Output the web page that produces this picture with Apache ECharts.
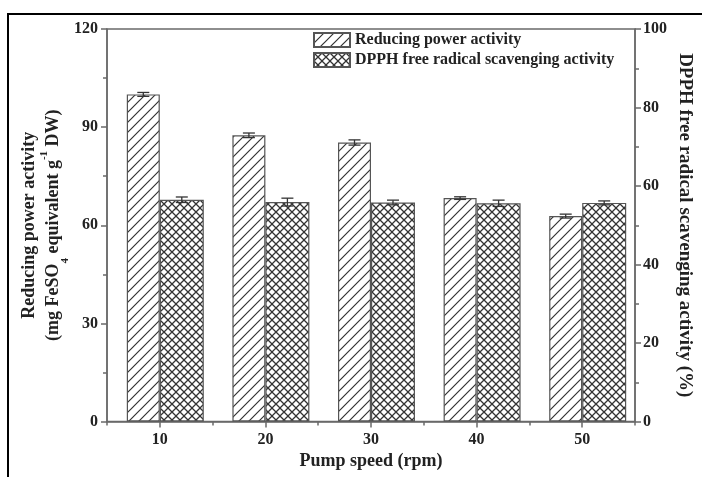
<!DOCTYPE html>
<html>
<head>
<meta charset="utf-8">
<script src="https://cdn.jsdelivr.net/npm/echarts@6/dist/echarts.min.js"></script>
<style>
  html, body { margin: 0; padding: 0; background: #ffffff; }
  #chart { width: 702px; height: 477px; }
</style>
</head>
<body>
<div id="chart"></div>
<script>
// Pump speed categories (rpm)
const pumpSpeeds = ['10', '20', '30', '40', '50'];
// Reducing power activity (mg FeSO4 equivalent g-1 DW) and its error
const reducingPower = [100.0, 87.5, 85.3, 68.3, 62.8];
const reducingErr = [0.6, 0.7, 0.8, 0.4, 0.6];
// DPPH free radical scavenging activity (%) and its error
const dpphActivity = [56.5, 55.9, 55.8, 55.6, 55.7];
const dpphErr = [0.7, 1.0, 0.6, 0.8, 0.5];

const FONT = '"Liberation Serif", "Times New Roman", serif';
const AXIS_COLOR = '#6a6a6a';
const INK = '#333333';

// Bar widths in pixels; the lead slot keeps the hatched / cross-hatched
// boundary exactly on the category tick.
const LEAD_W = 11, HATCH_W = 33, CROSS_W = 44;

function makeHatch() {
  const c = document.createElement('canvas');
  c.width = 10; c.height = 10;
  const g = c.getContext('2d');
  g.fillStyle = '#ffffff';
  g.fillRect(0, 0, 10, 10);
  g.strokeStyle = INK;
  g.lineWidth = 1.2;
  g.beginPath();
  g.moveTo(-2, 12); g.lineTo(12, -2);
  g.moveTo(-2, 2); g.lineTo(2, -2);
  g.moveTo(8, 12); g.lineTo(12, 8);
  g.stroke();
  return c;
}

function makeCross() {
  const c = document.createElement('canvas');
  c.width = 8; c.height = 8;
  const g = c.getContext('2d');
  g.fillStyle = '#ffffff';
  g.fillRect(0, 0, 8, 8);
  g.strokeStyle = INK;
  g.lineWidth = 1.3;
  g.beginPath();
  g.moveTo(-1, 9); g.lineTo(9, -1);
  g.moveTo(-1, -1); g.lineTo(9, 9);
  g.stroke();
  return c;
}

function errorBars(offset, halfCap) {
  return function (params, api) {
    const i = api.value(0), v = api.value(1), e = api.value(2);
    const hi = api.coord([i, v + e]);
    const lo = api.coord([i, v - e]);
    const x = hi[0] + offset;
    const style = { stroke: INK, lineWidth: 1.3 };
    return {
      type: 'group',
      children: [
        { type: 'line', shape: { x1: x, y1: hi[1], x2: x, y2: lo[1] }, style: style },
        { type: 'line', shape: { x1: x - halfCap, y1: hi[1], x2: x + halfCap, y2: hi[1] }, style: style },
        { type: 'line', shape: { x1: x - halfCap, y1: lo[1], x2: x + halfCap, y2: lo[1] }, style: style }
      ]
    };
  };
}

const chart = echarts.init(document.getElementById('chart'), null, { renderer: 'canvas' });

const tickLabel = { fontFamily: FONT, fontWeight: 'bold', fontSize: 16, color: '#222' };
const titleText = { fontFamily: FONT, fontWeight: 'bold', fontSize: 18, color: '#222' };

chart.setOption({
  animation: false,
  backgroundColor: '#ffffff',
  graphic: [{
    type: 'rect',
    shape: { x: 8, y: 14, width: 720, height: 500 },
    style: { fill: 'none', stroke: '#000', lineWidth: 2 },
    silent: true, z: -1
  }],
  grid: {
    left: 107, right: 57, top: 29, bottom: 55.5,
    show: true, borderColor: AXIS_COLOR, borderWidth: 1.5, backgroundColor: 'transparent'
  },
  legend: {
    data: ['Reducing power activity', 'DPPH free radical scavenging activity'],
    orient: 'vertical',
    left: 308, top: 27,
    itemWidth: 36, itemHeight: 14, itemGap: 4,
    icon: 'rect',
    textStyle: { fontFamily: FONT, fontWeight: 'bold', fontSize: 16, color: '#222', padding: [0, 0, 0, 0] }
  },
  xAxis: [{
    type: 'category',
    data: pumpSpeeds,
    boundaryGap: true,
    name: 'Pump speed (rpm)',
    nameLocation: 'middle',
    nameGap: 31,
    nameTextStyle: titleText,
    axisLine: { show: true, lineStyle: { color: AXIS_COLOR, width: 1.5 } },
    axisTick: { show: true, alignWithLabel: true, length: 6, lineStyle: { color: AXIS_COLOR, width: 1.5 } },
    axisLabel: Object.assign({ margin: 10 }, tickLabel),
    splitLine: { show: false }
  }, {
    // boundary ticks halfway between speeds
    type: 'category',
    data: pumpSpeeds,
    position: 'bottom',
    boundaryGap: true,
    axisLine: { show: false },
    axisTick: { show: true, length: 4, lineStyle: { color: AXIS_COLOR, width: 1.5 } },
    axisLabel: { show: false },
    splitLine: { show: false }
  }],
  yAxis: [{
    type: 'value',
    min: 0, max: 120, interval: 30,
    position: 'left',
    name: '{a|Reducing power activity}\n{a|(mg FeSO}{sub|4}{a| equivalent g}{sup|-1}{a| DW)}',
    nameLocation: 'middle',
    nameRotate: 90,
    nameGap: 42,
    nameMoveOverlap: false,
    nameTextStyle: {
      rich: {
        a: Object.assign({ lineHeight: 24 }, titleText),
        sub: { fontFamily: FONT, fontWeight: 'bold', fontSize: 11, color: '#222', verticalAlign: 'bottom', lineHeight: 24, padding: [0, 0, -6, 0] },
        sup: { fontFamily: FONT, fontWeight: 'bold', fontSize: 11, color: '#222', verticalAlign: 'top', lineHeight: 24, padding: [-2, 0, 0, 0] }
      }
    },
    axisLine: { show: true, lineStyle: { color: AXIS_COLOR, width: 1.5 } },
    axisTick: { show: true, length: 6, lineStyle: { color: AXIS_COLOR, width: 1.5 } },
    minorTick: { show: true, splitNumber: 2, length: 4, lineStyle: { color: AXIS_COLOR, width: 1.5 } },
    axisLabel: Object.assign({ margin: 9 }, tickLabel),
    splitLine: { show: false }
  }, {
    type: 'value',
    min: 0, max: 100, interval: 20,
    position: 'right',
    name: 'DPPH free radical scavenging activity (%)',
    nameLocation: 'middle',
    nameRotate: -90,
    nameGap: 40,
    nameMoveOverlap: false,
    nameTextStyle: Object.assign({}, titleText, { fontSize: 19 }),
    axisLine: { show: true, lineStyle: { color: AXIS_COLOR, width: 1.5 } },
    axisTick: { show: true, length: 6, lineStyle: { color: AXIS_COLOR, width: 1.5 } },
    minorTick: { show: true, splitNumber: 2, length: 4, lineStyle: { color: AXIS_COLOR, width: 1.5 } },
    axisLabel: Object.assign({ margin: 8 }, tickLabel),
    splitLine: { show: false }
  }],
  series: [{
    name: 'lead',
    type: 'bar',
    xAxisIndex: 0, yAxisIndex: 0,
    barWidth: LEAD_W, barGap: '0%',
    data: pumpSpeeds.map(() => '-'),
    silent: true
  }, {
    name: 'Reducing power activity',
    type: 'bar',
    xAxisIndex: 0, yAxisIndex: 0,
    barWidth: HATCH_W, barGap: '0%',
    data: reducingPower,
    itemStyle: { color: { image: makeHatch(), repeat: 'repeat' }, borderColor: '#555', borderWidth: 1.2 }
  }, {
    name: 'DPPH free radical scavenging activity',
    type: 'bar',
    xAxisIndex: 0, yAxisIndex: 1,
    barWidth: CROSS_W, barGap: '0%',
    data: dpphActivity,
    itemStyle: { color: { image: makeCross(), repeat: 'repeat' }, borderColor: '#555', borderWidth: 1.2 }
  }, {
    type: 'custom',
    xAxisIndex: 0, yAxisIndex: 0,
    renderItem: errorBars(-HATCH_W / 2, 6),
    data: reducingPower.map((v, i) => [i, v, reducingErr[i]]),
    z: 5, silent: true
  }, {
    type: 'custom',
    xAxisIndex: 0, yAxisIndex: 1,
    renderItem: errorBars(CROSS_W / 2, 6),
    data: dpphActivity.map((v, i) => [i, v, dpphErr[i]]),
    z: 5, silent: true
  }]
});
</script>
</body>
</html>
